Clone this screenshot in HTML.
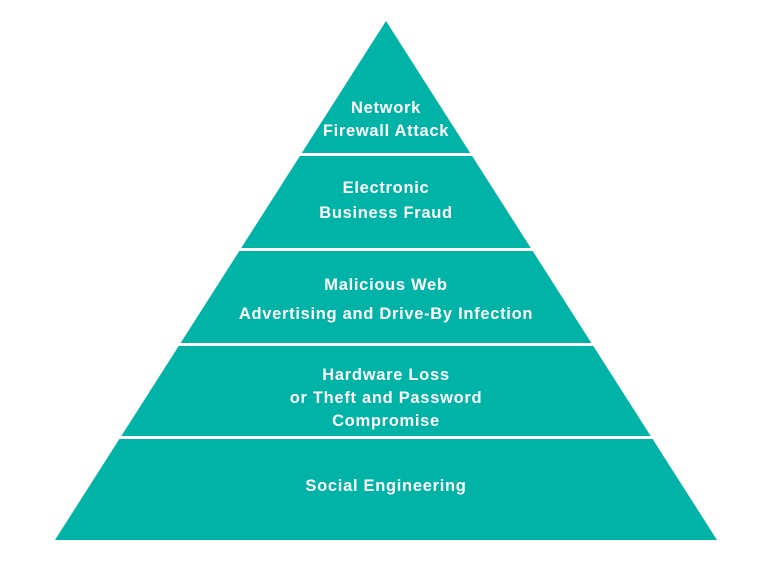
<!DOCTYPE html>
<html><head><style>
html,body{margin:0;padding:0;background:#fff;}
svg{display:block;}
text{font-family:"Liberation Sans",sans-serif;font-weight:bold;fill:#fff;font-size:16.5px;letter-spacing:0.7px;text-anchor:middle;}
</style></head><body>
<svg width="765" height="565" viewBox="0 0 765 565">
<polygon points="386,21 717,540 55,540" fill="#00b3a7"/>
<g fill="#fff">
<rect x="0" y="153" width="765" height="3"/>
<rect x="0" y="248" width="765" height="3"/>
<rect x="0" y="343" width="765" height="3"/>
<rect x="0" y="436" width="765" height="3"/>
</g>
<text x="386" y="113">Network</text>
<text x="386" y="136">Firewall Attack</text>
<text x="386" y="193">Electronic</text>
<text x="386" y="218">Business Fraud</text>
<text x="386" y="290">Malicious Web</text>
<text x="386" y="319">Advertising and Drive-By Infection</text>
<text x="386" y="380">Hardware Loss</text>
<text x="386" y="403">or Theft and Password</text>
<text x="386" y="426">Compromise</text>
<text x="386" y="491">Social Engineering</text>
</svg>
</body></html>
